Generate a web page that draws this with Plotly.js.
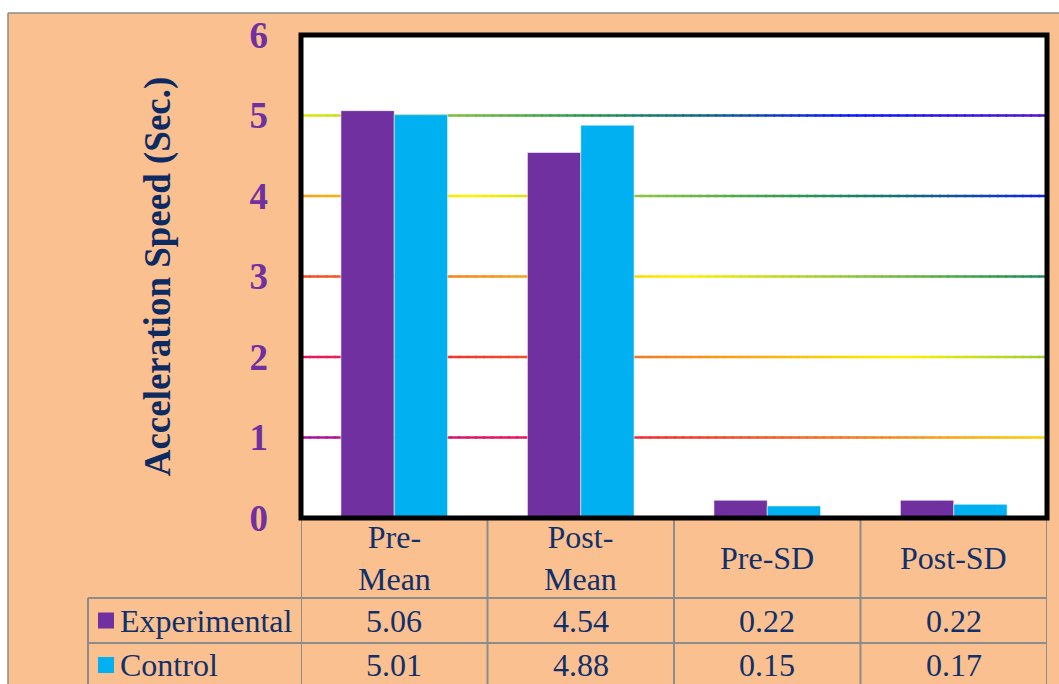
<!DOCTYPE html>
<html>
<head>
<meta charset="utf-8">
<script src="https://cdn.plot.ly/plotly-3.0.1.min.js"></script>
<style>html,body{margin:0;padding:0;background:#fff;}#chart{width:1059px;height:684px;}</style>
</head>
<body>
<div id="chart"></div>
<script>
// ---- data ----
const categories = ['Pre-Mean', 'Post-Mean', 'Pre-SD', 'Post-SD'];
const headerLabels = ['Pre-<br>Mean', 'Post-<br>Mean', 'Pre-SD', 'Post-SD'];
const seriesNames = ['Experimental', 'Control'];
const experimental = [5.06, 4.54, 0.22, 0.22];
const control = [5.01, 4.88, 0.15, 0.17];
const seriesColors = ['#7030A0', '#00B0F0'];
const yTicks = [0, 1, 2, 3, 4, 5, 6];
const yTitle = 'Acceleration Speed (Sec.)';

// ---- geometry helpers ----
const W = 1059, H = 684;
const M = {l: 301, r: 12, t: 35, b: 166};
const PW = W - M.l - M.r, PH = H - M.t - M.b;
const px2x = p => (p - M.l) / PW;
const py2y = p => (H - M.b - p) / PH;

const textColor = '#10306b';
const gridGray = '#8c8c8c';
const serif = 'Liberation Serif, Times New Roman, serif';

// gradient for gridlines (diagonal rainbow)
const stops = [[1.0,'#a8129f'],[2.0,'#e5195f'],[2.8,'#ef3b2c'],[3.9,'#f7941d'],[4.8,'#fff200'],
               [5.6,'#8dc63f'],[6.3,'#2e9a4e'],[6.8,'#13707a'],[7.6,'#0a14ff'],[8.5,'#5512cc']];
function hex2rgb(h){return [1,3,5].map(i=>parseInt(h.substr(i,2),16));}
function gradColor(t){
  if (t <= stops[0][0]) return stops[0][1];
  if (t >= stops[stops.length-1][0]) return stops[stops.length-1][1];
  for (let i=0;i<stops.length-1;i++){
    const [a,ca]=stops[i],[b,cb]=stops[i+1];
    if (t>=a && t<=b){
      const f=(t-a)/(b-a), A=hex2rgb(ca), B=hex2rgb(cb);
      const c=A.map((v,k)=>Math.round(v+(B[k]-v)*f));
      return 'rgb('+c.join(',')+')';
    }
  }
}

const shapes = [];
// white outer strips + gray frame border of the peach panel
shapes.push({type:'rect', xref:'paper', yref:'paper', x0:px2x(0), x1:px2x(W), y0:py2y(0), y1:py2y(13), fillcolor:'#fff', line:{width:0}, layer:'below'});
shapes.push({type:'rect', xref:'paper', yref:'paper', x0:px2x(0), x1:px2x(8), y0:py2y(0), y1:py2y(H), fillcolor:'#fff', line:{width:0}, layer:'below'});
shapes.push({type:'line', xref:'paper', yref:'paper', x0:px2x(8), x1:px2x(W), y0:py2y(13), y1:py2y(13), line:{color:'#8c8c8c', width:1.5}, layer:'below'});
shapes.push({type:'line', xref:'paper', yref:'paper', x0:px2x(8), x1:px2x(8), y0:py2y(13), y1:py2y(H), line:{color:'#8c8c8c', width:1.5}, layer:'below'});

// gradient gridlines
const N = 90;
yTicks.filter(v => v > 0 && v < 6).forEach(v => {
  for (let i = 0; i < N; i++) {
    const xa = i / N, xb = (i + 1) / N, xm = (xa + xb) / 2;
    shapes.push({type:'line', xref:'paper', yref:'y', x0:xa, x1:xb + 0.002, y0:v, y1:v,
      line:{color:gradColor(v + 3.5 * xm), width:2.5}, layer:'below'});
  }
});

// data table lines
const tblTop = 518, rowA = 598, rowB = 643, tblBot = H + 10;
for (let k = 0; k <= categories.length; k++) {
  shapes.push({type:'line', xref:'x', yref:'paper', x0:k - 0.5, x1:k - 0.5, y0:py2y(tblTop), y1:py2y(tblBot), line:{color:gridGray, width:2}});
}
[rowA, rowB].forEach(r => {
  shapes.push({type:'line', xref:'paper', yref:'paper', x0:px2x(88), x1:1, y0:py2y(r), y1:py2y(r), line:{color:gridGray, width:2}});
});
shapes.push({type:'line', xref:'paper', yref:'paper', x0:px2x(88), x1:px2x(88), y0:py2y(rowA), y1:py2y(tblBot), line:{color:gridGray, width:2}});

// legend keys in table
const rowCenters = [(rowA + rowB) / 2, rowB + 22];
seriesColors.forEach((c, i) => {
  const cy = rowCenters[i];
  shapes.push({type:'rect', xref:'paper', yref:'paper', x0:px2x(98), x1:px2x(114), y0:py2y(cy - 8), y1:py2y(cy + 8), fillcolor:c, line:{width:0}});
});

// plot frame
shapes.push({type:'rect', xref:'paper', yref:'paper', x0:0, x1:1, y0:0, y1:1, line:{color:'#000', width:5}, layer:'above'});

const annotations = [];
const tfont = {family: serif, size: 32, color: textColor};
categories.forEach((c, k) => {
  annotations.push({xref:'x', yref:'paper', x:k, y:py2y((tblTop + rowA) / 2), text:headerLabels[k], showarrow:false, font:tfont, xanchor:'center', yanchor:'middle'});
  annotations.push({xref:'x', yref:'paper', x:k, y:py2y(rowCenters[0]), text:experimental[k].toFixed(2), showarrow:false, font:tfont, xanchor:'center', yanchor:'middle'});
  annotations.push({xref:'x', yref:'paper', x:k, y:py2y(rowCenters[1]), text:control[k].toFixed(2), showarrow:false, font:tfont, xanchor:'center', yanchor:'middle'});
});
seriesNames.forEach((n, i) => {
  annotations.push({xref:'paper', yref:'paper', x:px2x(118), y:py2y(rowCenters[i]), text:n, showarrow:false, font:tfont, xanchor:'left', yanchor:'middle'});
});

const traces = [experimental, control].map((vals, i) => ({
  type:'bar', name:seriesNames[i], x:categories, y:vals,
  marker:{color:seriesColors[i], line:{color:'rgba(255,255,255,0.55)', width:1}},
  hoverinfo:'x+y+name'
}));

const layout = {
  width: W, height: H,
  margin: M,
  paper_bgcolor: '#FAC090',
  plot_bgcolor: '#ffffff',
  showlegend: false,
  barmode: 'group',
  bargap: 0.428,
  bargroupgap: 0,
  xaxis: {type:'category', categoryorder:'array', categoryarray:categories, range:[-0.5, 3.5], showticklabels:false, showgrid:false, zeroline:false, showline:false, fixedrange:true},
  yaxis: {range:[0, 6], tickvals:yTicks, showgrid:false, zeroline:false, showline:false, ticks:'', ticklabelstandoff:32,
    tickfont:{family:serif, size:37, color:'#7030A0', weight:'bold'},
    title:{text:yTitle, standoff:67, font:{family:serif, size:37, color:'#0d2b63', weight:'bold'}},
    automargin:false, fixedrange:true},
  shapes: shapes,
  annotations: annotations
};

Plotly.newPlot('chart', traces, layout, {displayModeBar:false, staticPlot:true});
</script>
</body>
</html>
